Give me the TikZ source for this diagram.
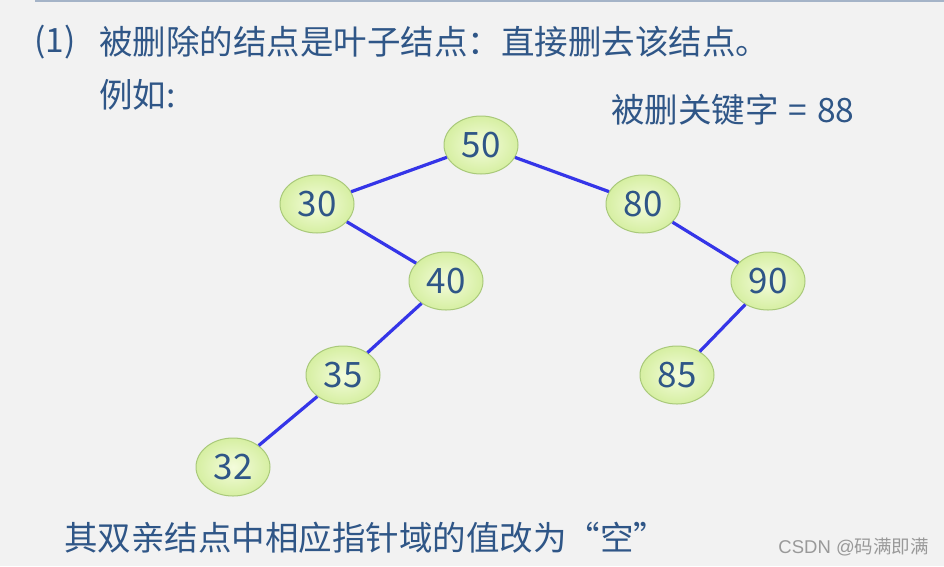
\documentclass[tikz,border=0pt]{standalone}
\usepackage{fontspec}
\setmainfont{Noto Sans CJK SC}
\newfontfamily\cjk{Noto Sans CJK SC}
\usetikzlibrary{shapes.geometric}
\begin{document}
\begin{tikzpicture}[x=1pt,y=-1pt,
  txt/.style={text=textblue,font=\cjk\fontsize{33.5}{36}\selectfont,inner sep=0pt},
  bnode/.style={ellipse,draw=nodeborder,line width=1pt,inner color=nodein,outer color=nodeout,minimum width=74pt,minimum height=58pt,text=textblue,font=\cjk\fontsize{35}{38}\selectfont,inner sep=0pt},
  edge/.style={draw=edgeblue,line width=3.2pt}]
\definecolor{textblue}{HTML}{2F5687}
\definecolor{nodein}{HTML}{F4FCDC}
\definecolor{nodeout}{HTML}{D6EFA2}
\definecolor{nodeborder}{HTML}{A9C97A}
\definecolor{edgeblue}{HTML}{3535E8}
\definecolor{bg}{HTML}{F2F2F2}
\definecolor{rule}{HTML}{A5B4C8}
\fill[bg] (0,0) rectangle (944,566);
\useasboundingbox (0,0) rectangle (944,566);
\coordinate (rl) at (35,1);
\coordinate (rr) at (944,1);
\draw[rule,line width=1.5pt] (rl) -- (rr);
\node[txt,anchor=west] (num) at (34,42) {(1)};
\node[txt,anchor=west] (title) at (99,42) {被删除的结点是叶子结点：直接删去该结点。};
\node[txt,anchor=west] (eg) at (99,95) {例如:};
\node[txt,anchor=west] (key) at (611,110) {被删关键字\hspace{10pt}=\hspace{10pt}88};
\node[txt,anchor=west] (bottom) at (64,538) {其双亲结点中相应指针域的值改为“空”};
\node[anchor=east,text=gray!80,font=\fontspec{Liberation Sans}\fontsize{18.5}{20}\selectfont,inner sep=0pt] (csdn) at (929,547) {CSDN @\cjk 码满即满};
\path (481,145) node[bnode] (n50) {50}
      (317,204) node[bnode] (n30) {30}
      (643,204) node[bnode] (n80) {80}
      (446,281) node[bnode] (n40) {40}
      (768,281) node[bnode] (n90) {90}
      (343,375) node[bnode] (n35) {35}
      (677,375) node[bnode] (n85) {85}
      (233,467) node[bnode] (n32) {32};
\draw[edge] (n50) -- (n30);
\draw[edge] (n50) -- (n80);
\draw[edge] (n30) -- (n40);
\draw[edge] (n80) -- (n90);
\draw[edge] (n40) -- (n35);
\draw[edge] (n90) -- (n85);
\draw[edge] (n35) -- (n32);
\end{tikzpicture}
\end{document}
